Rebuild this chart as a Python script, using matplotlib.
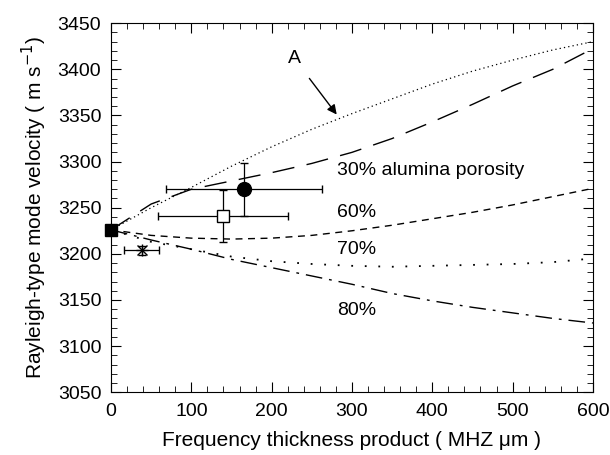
import matplotlib.pyplot as plt
from matplotlib.ticker import MultipleLocator

plt.rcParams['font.family'] = ['Liberation Sans', 'DejaVu Sans']

# curves
x_curve = [0, 50, 100, 150, 200, 250, 300, 350, 400, 450, 500, 550, 600]
upper_dotted = [3226, 3250, 3272, 3295, 3316, 3335, 3352, 3368, 3384, 3398, 3410, 3421, 3430]
x_dash = [0, 50, 100, 150, 200, 250, 300, 350, 400, 450, 500, 550, 590]
long_dash = [3226, 3254, 3270, 3279, 3288, 3298, 3310, 3325, 3343, 3362, 3382, 3400, 3418]
p60 = [3226, 3220, 3217, 3216, 3217, 3220, 3225, 3231, 3238, 3245, 3253, 3262, 3271]
p70 = [3226, 3213, 3205, 3197, 3192, 3189, 3187, 3186, 3187, 3188, 3189, 3191, 3195]
p80 = [3226, 3215, 3205, 3194, 3185, 3176, 3167, 3157, 3149, 3142, 3136, 3130, 3125]

# measured points: x, y, xerr, yerr
pts_x = [38, 139, 166]
pts_y = [3204, 3241, 3270]
pts_xerr = [22, 81, 97]
pts_yerr = [5, 28, 29]

fig = plt.figure(figsize=(6.1, 4.55), dpi=100)
ax = fig.add_axes([0.182, 0.138, 0.790, 0.811])

ax.plot(x_curve, upper_dotted, color='black', lw=0.9, ls=(0, (1, 2.5)))
ax.plot(x_dash, long_dash, color='black', lw=1.0, ls=(0, (16, 9)))
ax.plot(x_curve, p60, color='black', lw=1.0, ls=(0, (5, 4)))
ax.plot(x_curve, p70, color='black', lw=1.3, ls=(0, (1, 6.5)))
ax.plot(x_curve, p80, color='black', lw=1.0, ls=(0, (12, 5, 2, 5)))

ax.plot([0], [3226], marker='s', color='black', ms=9, zorder=5, clip_on=False)
ax.errorbar(pts_x[0], pts_y[0], xerr=pts_xerr[0], yerr=pts_yerr[0], fmt='x',
            color='black', ms=7, capsize=3, lw=0.9)
ax.plot(pts_x[0], pts_y[0], marker='+', color='black', ms=8)
ax.errorbar(pts_x[1], pts_y[1], xerr=pts_xerr[1], yerr=pts_yerr[1], fmt='s',
            mfc='white', mec='black', color='black', ms=8, capsize=3, lw=0.9)
ax.errorbar(pts_x[2], pts_y[2], xerr=pts_xerr[2], yerr=pts_yerr[2], fmt='o',
            color='black', ms=10, capsize=3, lw=0.9)

ax.text(281, 3290, '30% alumina porosity', fontsize=14, va='center')
ax.text(281, 3245, '60%', fontsize=14, va='center')
ax.text(281, 3205, '70%', fontsize=14, va='center')
ax.text(281, 3139, '80%', fontsize=14, va='center')
ax.annotate('A', xy=(281, 3351), xytext=(228, 3412), fontsize=14,
            ha='center', va='center',
            arrowprops=dict(arrowstyle='-|>', color='black', lw=1.0,
                            shrinkA=8, shrinkB=0))

ax.set_xlim(0, 600)
ax.set_ylim(3050, 3450)
ax.xaxis.set_major_locator(MultipleLocator(100))
ax.xaxis.set_minor_locator(MultipleLocator(20))
ax.yaxis.set_major_locator(MultipleLocator(50))
ax.yaxis.set_minor_locator(MultipleLocator(10))
ax.tick_params(which='both', direction='in', top=True, right=True, labelsize=14)
ax.tick_params(axis='x', which='major', pad=8)
ax.tick_params(axis='y', which='major', pad=7)
ax.tick_params(which='major', length=7)
ax.tick_params(which='minor', length=4)

ax.set_xlabel('Frequency thickness product ( MHZ \u03bcm )', fontsize=15, labelpad=8)
ax.set_ylabel('Rayleigh-type mode velocity ( m s$^{-1}$)', fontsize=15, labelpad=6)

fig.savefig('out.png')
